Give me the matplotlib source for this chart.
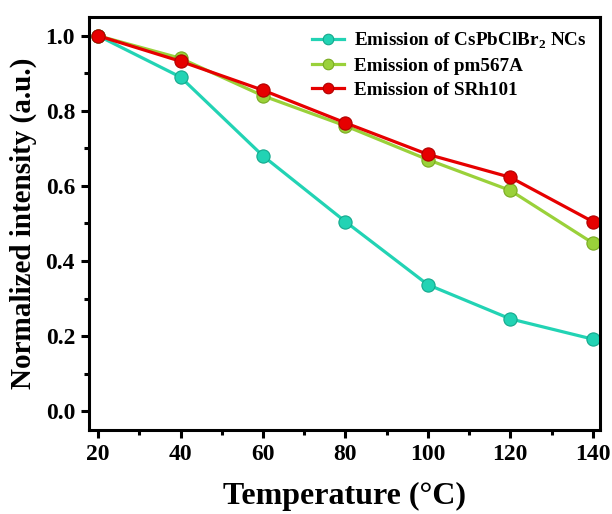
import matplotlib
matplotlib.use("Agg")

import matplotlib.pyplot as plt
from matplotlib.ticker import MultipleLocator

# data
temperature = [20, 40, 60, 80, 100, 120, 140]
cspbclbr2 = [1.0, 0.89, 0.68, 0.505, 0.337, 0.246, 0.192]
pm567a = [1.0, 0.94, 0.84, 0.76, 0.67, 0.588, 0.448]
srh101 = [1.0, 0.932, 0.855, 0.768, 0.684, 0.623, 0.505]

labels = [r"Emission of CsPbClBr$_\mathbf{2}$ NCs",
          "Emission of pm567A",
          "Emission of SRh101"]
colors = ["#22d3b4", "#9ad13a", "#e60000"]
edges = ["#14a88c", "#78aa20", "#b00000"]

plt.rcParams["font.family"] = ["Liberation Serif", "DejaVu Serif"]
plt.rcParams["font.weight"] = "bold"
plt.rcParams["mathtext.fontset"] = "custom"
plt.rcParams["mathtext.bf"] = "Liberation Serif:bold"
plt.rcParams["mathtext.rm"] = "Liberation Serif:bold"

fig = plt.figure(figsize=(6.12, 5.14), dpi=100)
ax = fig.add_axes([0.1454, 0.1634, 0.8346, 0.8036])

for ys, lab, c, ec in zip([cspbclbr2, pm567a, srh101], labels, colors, edges):
    ax.plot(temperature, ys, "-o", color=c, lw=2.3, ms=9.5,
            mfc=c, mec=ec, mew=0.8, label=lab)

ax.set_xlim(17.8, 141.7)
ax.set_ylim(-0.05, 1.05)
ax.xaxis.set_major_locator(MultipleLocator(20))
ax.xaxis.set_minor_locator(MultipleLocator(10))
ax.yaxis.set_major_locator(MultipleLocator(0.2))
ax.yaxis.set_minor_locator(MultipleLocator(0.1))
ax.yaxis.set_major_formatter(plt.FormatStrFormatter("%.1f"))

for s in ax.spines.values():
    s.set_linewidth(2.2)
ax.tick_params(which="major", direction="out", length=6, width=2.2,
               labelsize=17, pad=4)
ax.tick_params(which="minor", direction="out", length=3.5, width=2.2)
for t in ax.get_xticklabels() + ax.get_yticklabels():
    t.set_fontweight("bold")

ax.set_xlabel("Temperature (°C)", fontsize=23, fontweight="bold", labelpad=12)
ax.set_ylabel("Normalized intensity (a.u.)", fontsize=21, fontweight="bold",
              labelpad=6)

leg = ax.legend(loc="upper right", frameon=False,
                handlelength=1.7, handletextpad=0.5, labelspacing=0.35,
                borderaxespad=0.3, markerscale=0.8,
                prop={"size": 13.8, "weight": "bold"})

fig.savefig("out.png", dpi=100)
